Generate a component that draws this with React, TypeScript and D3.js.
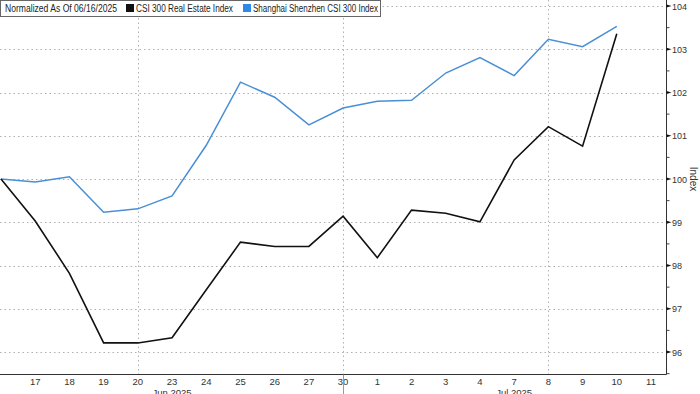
import React, { useEffect, useRef } from 'react';
import * as d3 from 'd3';

// trading days shown on the x axis ("11" has no data yet)
const days = ['16', '17', '18', '19', '20', '23', '24', '25', '26', '27', '30', '1', '2', '3', '4', '7', '8', '9', '10', '11'];
const months = [
  { label: 'Jun 2025', day: '23' },
  { label: 'Jul 2025', day: '7' },
];
const monthStart = '30';
const gridDays = ['20', '30', '8'];

const realEstate = [100, 99.03, 97.82, 96.21, 96.21, 96.33, 97.44, 98.54, 98.44, 98.44, 99.14, 98.18, 99.28, 99.21, 99.01, 100.44, 101.21, 100.76, 103.36];
const csi300 = [100, 99.93, 100.05, 99.23, 99.31, 99.61, 100.78, 102.24, 101.89, 101.25, 101.64, 101.8, 101.82, 102.45, 102.81, 102.39, 103.23, 103.06, 103.53];

const yTicks = [96, 97, 98, 99, 100, 101, 102, 103, 104];
const yMinor = [95.5, 96.5, 97.5, 98.5, 99.5, 100.5, 101.5, 102.5, 103.5];

const legendTitle = 'Normalized As Of 06/16/2025';
const seriesNames = ['CSI 300 Real Estate Index', 'Shanghai Shenzhen CSI 300 Index'];

const App = () => {
  const svgRef = useRef<SVGSVGElement>(null);
  const width = 700;
  const height = 394;

  useEffect(() => {
    const svg = d3.select(svgRef.current);
    svg.selectAll('*').remove();

    const font = '"Liberation Sans", Arial, sans-serif';
    const plotRight = 666.5;
    const plotBottom = 374.5;

    const x = d3.scalePoint<string>().domain(days).range([1, 651]);
    const y = d3.scaleLinear().domain([96, 100]).range([352, 179]);

    // horizontal dotted grid
    svg.append('g')
      .selectAll('line')
      .data(yTicks)
      .enter().append('line')
      .attr('x1', 0)
      .attr('x2', plotRight)
      .attr('y1', d => Math.round(y(d)) + 0.5)
      .attr('y2', d => Math.round(y(d)) + 0.5)
      .attr('stroke', '#b0b0b0')
      .attr('stroke-dasharray', '1.5,3');

    // vertical dotted grid
    svg.append('g')
      .selectAll('line')
      .data(gridDays)
      .enter().append('line')
      .attr('x1', d => Math.round(x(d)!) + 0.5)
      .attr('x2', d => Math.round(x(d)!) + 0.5)
      .attr('y1', 0)
      .attr('y2', plotBottom)
      .attr('stroke', '#b0b0b0')
      .attr('stroke-dasharray', '1.5,3');

    const line = d3.line<number>()
      .x((d, i) => x(days[i])!)
      .y(d => y(d));

    svg.append('path')
      .datum(csi300)
      .attr('fill', 'none')
      .attr('stroke', '#4a8fd6')
      .attr('stroke-width', 1.5)
      .attr('d', line);

    svg.append('path')
      .datum(realEstate)
      .attr('fill', 'none')
      .attr('stroke', '#111')
      .attr('stroke-width', 1.6)
      .attr('d', line);

    // axes frame
    svg.append('line')
      .attr('x1', 0).attr('x2', plotRight)
      .attr('y1', plotBottom).attr('y2', plotBottom)
      .attr('stroke', '#333');
    svg.append('line')
      .attr('x1', plotRight).attr('x2', plotRight)
      .attr('y1', 0).attr('y2', plotBottom)
      .attr('stroke', '#333');

    // right axis ticks and labels
    const yAxis = svg.append('g');
    yAxis.selectAll('path.major')
      .data(yTicks)
      .enter().append('path')
      .attr('class', 'major')
      .attr('d', d => `M${plotRight},${y(d) - 1.5}L${plotRight + 5},${y(d)}L${plotRight},${y(d) + 1.5}Z`)
      .attr('fill', '#111');
    yAxis.selectAll('line.minor')
      .data(yMinor)
      .enter().append('line')
      .attr('class', 'minor')
      .attr('x1', plotRight).attr('x2', plotRight + 3)
      .attr('y1', d => y(d)).attr('y2', d => y(d))
      .attr('stroke', '#444');
    yAxis.selectAll('text')
      .data(yTicks)
      .enter().append('text')
      .attr('x', plotRight + 5.5)
      .attr('y', d => y(d) + 3.5)
      .style('font-family', font)
      .style('font-size', '9px')
      .attr('fill', '#333')
      .text(d => d);

    svg.append('text')
      .attr('transform', `translate(690,179) rotate(90)`)
      .style('text-anchor', 'middle')
      .style('font-family', font)
      .style('font-size', '10px')
      .attr('fill', '#333')
      .text('Index');

    // bottom axis labels
    svg.append('g')
      .selectAll('text')
      .data(days.slice(1))
      .enter().append('text')
      .attr('x', d => x(d)!)
      .attr('y', 384.5)
      .style('text-anchor', 'middle')
      .style('font-family', font)
      .style('font-size', '9.5px')
      .attr('fill', '#333')
      .text(d => d);

    svg.append('line')
      .attr('x1', Math.round(x(monthStart)!) + 0.5)
      .attr('x2', Math.round(x(monthStart)!) + 0.5)
      .attr('y1', plotBottom).attr('y2', height)
      .attr('stroke', '#999');

    svg.append('g')
      .selectAll('text')
      .data(months)
      .enter().append('text')
      .attr('x', d => x(d.day)!)
      .attr('y', 396)
      .style('text-anchor', 'middle')
      .style('font-family', font)
      .style('font-size', '9.5px')
      .attr('fill', '#333')
      .text(d => d.label);

    // legend
    const legend = svg.append('g');
    legend.append('rect')
      .attr('x', 0.5).attr('y', 0.5)
      .attr('width', 380).attr('height', 16)
      .attr('fill', '#fff')
      .attr('stroke', '#666');
    legend.append('text')
      .attr('x', 5).attr('y', 12)
      .attr('textLength', 112)
      .attr('lengthAdjust', 'spacingAndGlyphs')
      .style('font-family', font)
      .style('font-size', '10px')
      .attr('fill', '#222')
      .text(legendTitle);
    const swatches = [
      { x: 126, color: '#111', name: seriesNames[0], w: 97 },
      { x: 243, color: '#2e8ae6', name: seriesNames[1], w: 125 },
    ];
    swatches.forEach(s => {
      legend.append('rect')
        .attr('x', s.x).attr('y', 4)
        .attr('width', 8).attr('height', 8)
        .attr('fill', s.color);
      legend.append('text')
        .attr('x', s.x + 10).attr('y', 12)
        .attr('textLength', s.w)
        .attr('lengthAdjust', 'spacingAndGlyphs')
        .style('font-family', font)
        .style('font-size', '10px')
        .attr('fill', '#222')
        .text(s.name);
    });
  }, []);

  return (
    <div style={{ position: 'fixed', left: 0, top: 0 }}>
      <svg ref={svgRef} width={width} height={height} style={{ display: 'block', background: '#fff' }}></svg>
    </div>
  );
};

export default App;
